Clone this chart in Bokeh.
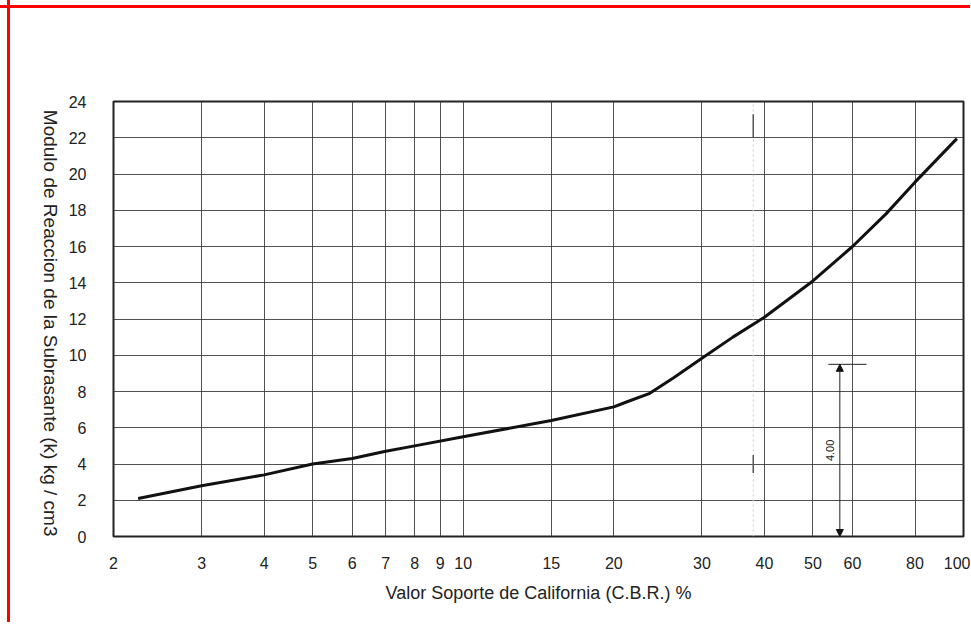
from bokeh.plotting import figure
from bokeh.models import FixedTicker, Label, Arrow, NormalHead, Range1d
from bokeh.embed import file_html
from bokeh.resources import INLINE
import math

# Data
cbr = [2.24, 3, 4, 5, 6, 7, 8, 10, 15, 20, 21.2, 23.6, 26.3, 30, 34.6, 40, 50, 60, 70, 80, 97]
k = [2.1, 2.8, 3.4, 4.0, 4.3, 4.7, 5.0, 5.5, 6.4, 7.15, 7.42, 7.9, 8.75, 9.83, 11.0, 12.1,
     14.1, 16.0, 17.8, 19.55, 21.95]

x_ticks = [2, 3, 4, 5, 6, 7, 8, 9, 10, 15, 20, 30, 40, 50, 60, 80, 100]
y_ticks = [0, 2, 4, 6, 8, 10, 12, 14, 16, 18, 20, 22, 24]

dim_x = 56.6
dim_top = 9.5
dim_bottom = 0.0
dim_text = "4.00"

x_title = "Valor Soporte de California (C.B.R.) %"
y_title = "Modulo de Reaccion de la Subrasante (k) kg / cm3"

FONT = "Liberation Sans"
INK = "#222222"

p = figure(width=970, height=622, x_axis_type="log",
           x_range=Range1d(2, 100), y_range=Range1d(0, 24),
           output_backend="svg", toolbar_location=None,
           min_border_left=113, min_border_right=7,
           min_border_top=101, min_border_bottom=86)
# red frame of the scanned picture (top and left edges) drawn behind a transparent border
p.styles = {
    "background-image": "linear-gradient(#ff0000, #ff0000), linear-gradient(#ff0000, #ff0000)",
    "background-size": "100% 3px, 3px 100%",
    "background-position": "0px 5px, 7px 0px",
    "background-repeat": "no-repeat",
    "background-color": "white",
}
p.background_fill_color = "white"
p.border_fill_color = None
p.outline_line_color = INK
p.outline_line_width = 2

p.xaxis.ticker = FixedTicker(ticks=x_ticks)
p.yaxis.ticker = FixedTicker(ticks=y_ticks)
p.xaxis.major_label_overrides = {t: str(t) for t in x_ticks}
for ax in (p.xaxis[0], p.yaxis[0]):
    ax.axis_line_color = None
    ax.major_tick_line_color = None
    ax.minor_tick_line_color = None
    ax.major_label_text_font = FONT
    ax.major_label_text_font_size = "16px"
    ax.major_label_text_color = INK
    ax.axis_label_text_font = FONT
    ax.axis_label_text_font_style = "normal"
    ax.axis_label_text_color = INK
p.xaxis.major_label_standoff = 14
p.yaxis.major_label_standoff = 21
p.xaxis.axis_label = x_title
p.xaxis.axis_label_text_font_size = "18px"
p.xaxis.axis_label_standoff = 11

p.yaxis.axis_label = y_title
p.yaxis.axis_label_text_font_size = "19px"
p.yaxis.axis_label_standoff = 15
try:
    p.yaxis[0].axis_label_orientation = -math.pi / 2
    p.yaxis[0].axis_label_align = "start"
except Exception:
    pass

p.xgrid.ticker = FixedTicker(ticks=x_ticks)
p.ygrid.ticker = FixedTicker(ticks=y_ticks)
for g in (p.xgrid[0], p.ygrid[0]):
    g.grid_line_color = "#333333"
    g.grid_line_width = 1
    g.grid_line_alpha = 0.85

# scan artifacts: faint dotted vertical line with short marks
p.segment(x0=[38.0], y0=[0], x1=[38.0], y1=[24], line_color="#cccccc",
          line_width=1, line_dash="2 3")
p.segment(x0=[38.0, 38.0], y0=[22.0, 3.5], x1=[38.0, 38.0], y1=[23.3, 4.5],
          line_color="#555555", line_width=1.5)

# curve
p.line(cbr, k, line_color="#111111", line_width=3)

# dimension annotation
p.segment(x0=[53.7], y0=[dim_top], x1=[64.0], y1=[dim_top], line_color=INK, line_width=1)
p.add_layout(Arrow(start=NormalHead(size=7, fill_color="#111111", line_color="#111111"),
                   end=NormalHead(size=7, fill_color="#111111", line_color="#111111"),
                   x_start=dim_x, y_start=dim_bottom, x_end=dim_x, y_end=dim_top,
                   line_color=INK, line_width=1))
p.add_layout(Label(x=54.1, y=4.75, text=dim_text, angle=math.pi / 2,
                   text_font=FONT, text_font_size="11px", text_color=INK,
                   text_align="center", text_baseline="middle"))

open("out.html", "w").write(file_html(p, INLINE))
